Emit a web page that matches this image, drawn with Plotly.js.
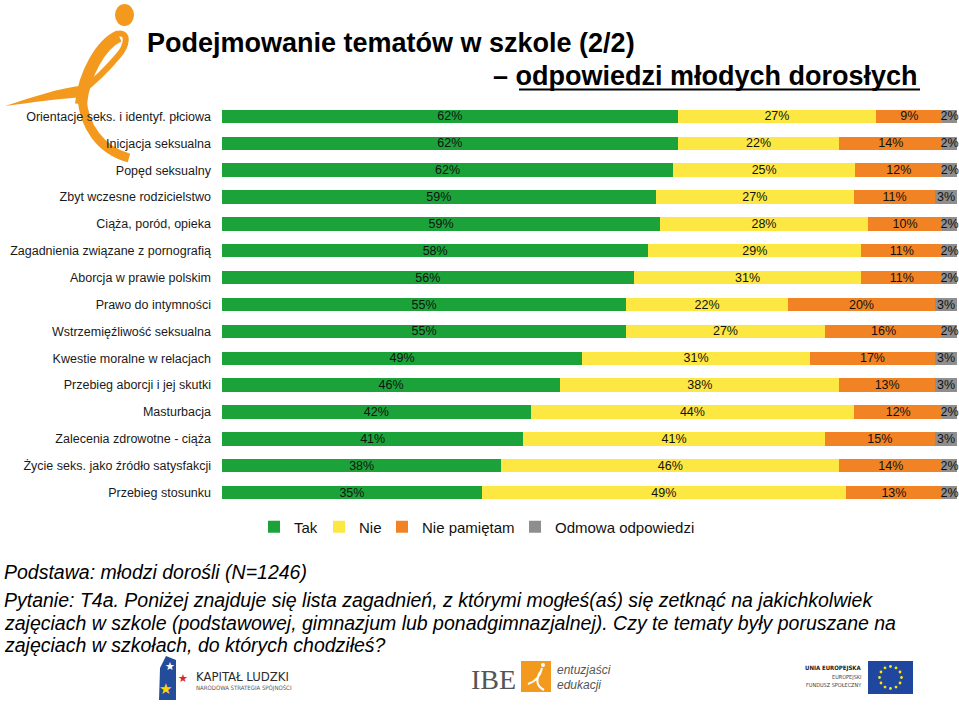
<!DOCTYPE html>
<html>
<head>
<meta charset="utf-8">
<script src="https://cdn.plot.ly/plotly-3.0.1.min.js"></script>
<style>html,body{margin:0;padding:0;background:#fff;}#chart{width:959px;height:706px;}</style>
</head>
<body>
<div id="chart"></div>
<script>
const categories = ["Orientacje seks. i identyf. płciowa","Inicjacja seksualna","Popęd seksualny","Zbyt wczesne rodzicielstwo","Ciąża, poród, opieka","Zagadnienia związane z pornografią","Aborcja w prawie polskim","Prawo do intymności","Wstrzemięźliwość seksualna","Kwestie moralne w relacjach","Przebieg aborcji i jej skutki","Masturbacja","Zalecenia zdrowotne - ciąża","Życie seks. jako źródło satysfakcji","Przebieg stosunku"];
const tak     = [62,62,62,59,59,58,56,55,55,49,46,42,41,38,35];
const nie     = [27,22,25,27,28,29,31,22,27,31,38,44,41,46,49];
const niePam  = [9,14,12,11,10,11,11,20,16,17,13,12,15,14,13];
const odmowa  = [2,2,2,3,2,2,2,3,2,3,3,2,3,2,2];
const seriesNames = ["Tak","Nie","Nie pamiętam","Odmowa odpowiedzi"];

const FONT = "Liberation Sans, Arial, sans-serif";
const colors = ["#1BA33A","#FDE743","#F28324","#8E8E8E"];
const L=222, R=957, T=103, B=506;
const px = x => (x-L)/(R-L);
const py = y => (B-y)/(B-T);
const P = (x,y) => px(x)+","+py(y);

const seriesVals = [tak, nie, niePam, odmowa];
const legendIds = ["legend","legend2","legend3","legend4"];
const traces = seriesVals.map((vals,i) => ({
  type:"bar", orientation:"h", name: seriesNames[i],
  y: categories, x: vals,
  marker:{color: colors[i]},
  text: vals.map(v => v+"%"), texttemplate:"%{text}",
  textposition:"inside", insidetextanchor:"middle", textangle:0,
  constraintext:"none", cliponaxis:false,
  textfont:{family:FONT, size:12.5, color:"#111"},
  hoverinfo:"skip", legend: legendIds[i]
}));

const legendTextStart = [294, 359, 422, 555];
const legendCommon = {orientation:"h", xref:"container", yref:"container", yanchor:"middle",
  xanchor:"left", y: 1-527/706, font:{family:FONT,size:15,color:"#111"}, bgcolor:"rgba(0,0,0,0)",
  itemclick:false, itemdoubleclick:false};
const legends = {};
legendIds.forEach((id,i) => {
  legends[id] = Object.assign({}, legendCommon, {x:(legendTextStart[i]-40)/959});
});

const orange = "#F39A1E";
const shp = o => Object.assign({xref:"paper", yref:"paper", layer:"below"}, o);
const shapes = [
  // logo swirl
  shp({type:"path", path:`M${P(5,106)} C${P(30,98)} ${P(58,88)} ${P(86,85)} L${P(88,97)} C${P(60,98)} ${P(30,103)} ${P(5,106)} Z`, fillcolor:orange, line:{width:0}}),
  shp({type:"path", path:`M${P(81,104)} C${P(84,74)} ${P(101,44)} ${P(119,36)}`, line:{color:orange,width:12}}),
  shp({type:"path", path:`M${P(117,34)} C${P(130,31)} ${P(127,46)} ${P(118,56)} C${P(108,68)} ${P(96,80)} ${P(81,92)}`, line:{color:orange,width:6}}),
  shp({type:"path", path:`M${P(82,98)} C${P(84,126)} ${P(100,150)} ${P(129,158)}`, line:{color:orange,width:9}}),
  shp({type:"circle", x0:px(115), x1:px(134), y0:py(4), y1:py(26), fillcolor:orange, line:{width:0}}),
  // Kapitał Ludzki flag
  shp({type:"path", path:`M${P(166,656)} L${P(176,660)} L${P(176,700)} L${P(159,700)} L${P(160,668)} Z`, fillcolor:"#234C9A", line:{width:0}}),
  // IBE orange square
  shp({type:"rect", x0:px(521), x1:px(551), y0:py(692), y1:py(661), fillcolor:"#F39A1E", line:{width:0}}),
  shp({type:"path", path:`M${P(528,684)} C${P(534,682)} ${P(540,678)} ${P(542,668)} M${P(540,672)} C${P(536,680)} ${P(536,686)} ${P(544,690)}`, line:{color:"#fff",width:2}}),
  shp({type:"circle", x0:px(541), x1:px(545), y0:py(667), y1:py(663), fillcolor:"#fff", line:{width:0}}),
  // EU flag
  shp({type:"rect", x0:px(868), x1:px(913), y0:py(694), y1:py(661), fillcolor:"#1F47A0", line:{width:0}}),
  // underline of subtitle
  shp({type:"line", x0:px(519), x1:px(920), y0:py(89.5), y1:py(89.5), line:{color:"#000",width:2}})
];
for (let k=0;k<12;k++){
  const a = k*Math.PI/6;
  const cx = 890.5 + 11*Math.cos(a), cy = 677.5 + 11*Math.sin(a);
  shapes.push(shp({type:"circle", x0:px(cx-1.4), x1:px(cx+1.4), y0:py(cy+1.4), y1:py(cy-1.4), fillcolor:"#FFE500", line:{width:0}}));
}

const ann = (x,y,text,opts) => Object.assign({xref:"paper", yref:"paper", x:px(x), y:py(y), text:text, showarrow:false, xanchor:"left", yanchor:"middle", font:{family:FONT,size:19.5,color:"#000"}}, opts||{});
const annotations = [
  ann(920,76,"<b>– odpowiedzi młodych dorosłych</b>",{xanchor:"right", font:{family:FONT,size:27,color:"#000"}}),
  ann(2,572,"<i>Podstawa: młodzi dorośli (N=1246)</i>"),
  ann(2,600,"<i>Pytanie: T4a. Poniżej znajduje się lista zagadnień, z którymi mogłeś(aś) się zetknąć na jakichkolwiek</i>"),
  ann(2,623,"<i>zajęciach w szkole (podstawowej, gimnazjum lub ponadgimnazjalnej). Czy te tematy były poruszane na</i>"),
  ann(2,645,"<i>zajęciach w szkołach, do których chodziłeś?</i>"),
  // Kapitał Ludzki logo
  ann(170,666,"★",{xanchor:"center", font:{family:"DejaVu Sans",size:11,color:"#fff"}}),
  ann(183,678,"★",{xanchor:"center", font:{family:"DejaVu Sans",size:11,color:"#D9262C"}}),
  ann(165,689,"★",{xanchor:"center", font:{family:"DejaVu Sans",size:15,color:"#FFD400"}}),
  ann(194,676,"KAPITAŁ LUDZKI",{font:{family:"DejaVu Sans Condensed, DejaVu Sans",size:13,color:"#2b2b2b"}}),
  ann(194,688,"NARODOWA STRATEGIA SPÓJNOŚCI",{font:{family:"DejaVu Sans Condensed, DejaVu Sans",size:6,color:"#555"}}),
  // IBE logo
  ann(518,679,"IBE",{xanchor:"right", font:{family:"Liberation Serif, DejaVu Serif",size:28,color:"#555"}}),
  ann(555,670,"<i>entuzjaści</i>",{font:{family:FONT,size:12,color:"#555"}}),
  ann(555,685,"<i>edukacji</i>",{font:{family:FONT,size:12,color:"#555"}}),
  // EU logo
  ann(864,668,"<b>UNIA EUROPEJSKA</b>",{xanchor:"right", font:{family:"DejaVu Sans Condensed, DejaVu Sans",size:6,color:"#222"}}),
  ann(864,677,"EUROPEJSKI",{xanchor:"right", font:{family:"DejaVu Sans Condensed, DejaVu Sans",size:5.5,color:"#444"}}),
  ann(864,685,"FUNDUSZ SPOŁECZNY",{xanchor:"right", font:{family:"DejaVu Sans Condensed, DejaVu Sans",size:5.5,color:"#444"}})
];

const layout = Object.assign({
  width:959, height:706,
  margin:{l:L, r:959-R, t:T, b:706-B, pad:0},
  paper_bgcolor:"#fff", plot_bgcolor:"rgba(0,0,0,0)",
  barmode:"stack", barnorm:"percent", bargap:0.5,
  showlegend:true,
  title:{text:"<b>Podejmowanie tematów w szkole (2/2)</b>", xref:"container", yref:"container",
    x:147/959, xanchor:"left", y:1-43/706, yanchor:"middle", font:{family:FONT,size:27,color:"#000"}},
  xaxis:{range:[0,100], visible:false, fixedrange:true},
  yaxis:{type:"category", autorange:"reversed", showgrid:false, zeroline:false, showline:false, ticks:"",
    ticklabelstandoff:10, tickfont:{family:FONT,size:12.5,color:"#1a1a1a"}, fixedrange:true},
  shapes:shapes, annotations:annotations
}, legends);

Plotly.newPlot("chart", traces, layout, {displayModeBar:false, staticPlot:true});
</script>
</body>
</html>
